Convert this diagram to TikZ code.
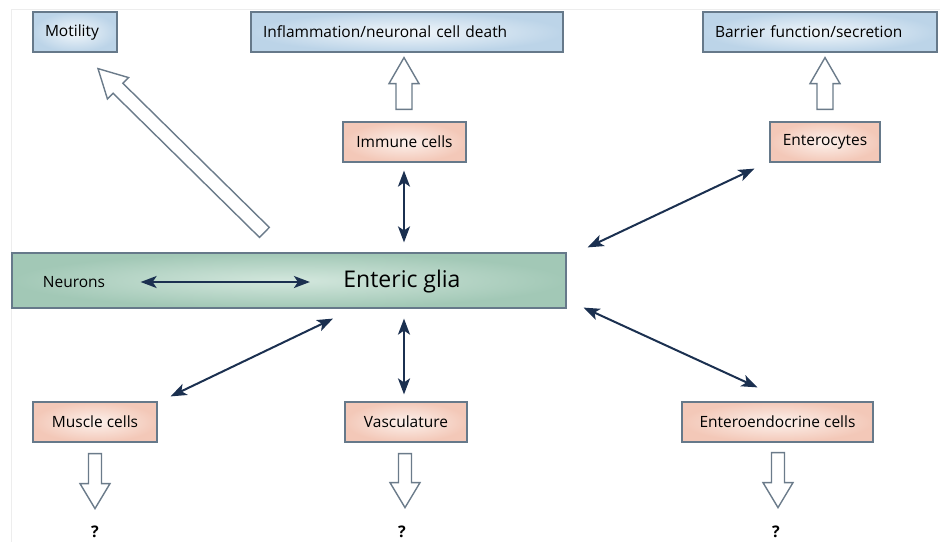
\documentclass[tikz,border=0pt]{standalone}
\usepackage{fontspec}
\setmainfont{Open Sans}
\usetikzlibrary{calc,arrows.meta}
\definecolor{navy}{HTML}{1B3050}
\definecolor{boxedge}{HTML}{66798A}
\definecolor{hollowedge}{HTML}{6B7B8A}
\definecolor{bluein}{HTML}{F2F7FB}
\definecolor{blueout}{HTML}{BCD4E8}
\definecolor{pinkin}{HTML}{FCF1EC}
\definecolor{pinkout}{HTML}{F3C8B8}
\definecolor{greenin}{HTML}{D3E7DD}
\definecolor{greenout}{HTML}{A2C8B6}
\newcommand\hollowarrow[5]{%
  \coordinate (ha-h) at ($(#2)!#5!(#1)$);
  \draw[hollow] ($(#1)!#3!90:(#2)$) -- ($(ha-h)!#3!-90:(#1)$) -- ($(ha-h)!#4!-90:(#1)$)
    -- (#2) -- ($(ha-h)!#4!90:(#1)$) -- ($(ha-h)!#3!90:(#1)$) -- ($(#1)!#3!-90:(#2)$) -- cycle;
}
\tikzset{
  lbl/.style={font=\fontsize{15.5}{18}\selectfont, text=black},
  bluebox/.style={lbl, draw=boxedge, line width=1.2pt, inner color=bluein, outer color=blueout,
    minimum height=40pt, inner ysep=0pt, inner xsep=12pt, align=left},
  pinkbox/.style={lbl, draw=boxedge, line width=1.2pt, inner color=pinkin, outer color=pinkout,
    minimum height=40pt, inner sep=0pt},
  greenbox/.style={draw=boxedge, line width=1.2pt, inner color=greenin, outer color=greenout,
    minimum height=55pt, inner sep=0pt},
  link/.style={draw=navy, line width=2pt, {Stealth[length=16pt,width=12pt,inset=4pt]}-{Stealth[length=16pt,width=12pt,inset=4pt]}},
  hollow/.style={draw=hollowedge, fill=white, line width=1.4pt, line join=miter},
  qmark/.style={font=\fontsize{16}{18}\selectfont\bfseries, text=black}
}
\begin{document}
\begin{tikzpicture}[x=1pt,y=-1pt]
\useasboundingbox (0,0) rectangle (940,542);
\fill[white] (0,0) rectangle (940,542);
\draw[black!7, line width=1pt] (11,542) -- (11,9) -- (940,9);

% top outcome boxes
\node[bluebox, text width=60pt] (motility) at (75,32) {Motility};
\node[bluebox, text width=288pt] (infl) at (407,32) {Inflammation/neuronal cell death};
\node[bluebox, text width=210pt] (barrier) at (820,32) {Barrier function/secretion};

% cell boxes
\node[pinkbox, minimum width=123pt] (immune) at (404.5,142) {Immune cells};
\node[pinkbox, minimum width=110pt] (entero) at (825,142) {Enterocytes};
\node[pinkbox, minimum width=124pt] (muscle) at (95,422) {Muscle cells};
\node[pinkbox, minimum width=122pt] (vasc) at (406,422) {Vasculature};
\node[pinkbox, minimum width=191pt] (endo) at (777.5,422) {Enteroendocrine cells};

% central glia box
\node[greenbox, minimum width=554pt] (gliabox) at (289,280.5) {};
\node[lbl] (neurons) at (74,282) {Neurons};
\node[font=\fontsize{23}{26}\selectfont, text=black] (glia) at (402,282) {Enteric glia};

% question marks
\node[qmark] (q1) at (95,532) {?};
\node[qmark] (q2) at (402,532) {?};
\node[qmark] (q3) at (776,532) {?};

% bidirectional links
\draw[link] ($(neurons.east)+(32,0)$) -- ($(glia.west)+(-30,0)$);
\draw[link] ($(immune.south)+(-0.5,8)$) -- ($(gliabox.north -| immune.south)+(-0.5,-10)$);
\draw[link] ($(entero.south west)+(-15,6)$) -- ($(gliabox.north east)+(21,-5)$);
\draw[link] ($(gliabox.south east)+(17,-1)$) -- ($(endo.north)+(-20,-14)$);
\draw[link] ($(muscle.north east)+(13,-5)$) -- ($(gliabox.south)+(44,10)$);
\draw[link] ($(gliabox.south -| vasc.north)+(-2,10)$) -- ($(vasc.north)+(-2,-7)$);

% hollow block arrows
\coordinate (m1) at ($(gliabox.north west)+(253,-20)$);
\coordinate (m2) at ($(motility.south)+(23,16)$);
\hollowarrow{m1}{m2}{7pt}{15pt}{28pt}
\coordinate (i1) at ($(immune.north)+(-0.5,-12)$);
\coordinate (i2) at ($(infl.south -| immune.north)+(-0.5,5)$);
\hollowarrow{i1}{i2}{8pt}{15pt}{26pt}
\coordinate (b1) at ($(entero.north)+(0,-12)$);
\coordinate (b2) at ($(barrier.south -| entero.north)+(0,5)$);
\hollowarrow{b1}{b2}{8pt}{15pt}{26pt}
\coordinate (d1a) at ($(muscle.south)+(0,11)$);
\coordinate (d1b) at ($(q1.north)+(0,-14)$);
\hollowarrow{d1a}{d1b}{6.5pt}{15pt}{25pt}
\coordinate (d2a) at ($(vasc.south)+(-1,11)$);
\coordinate (d2b) at ($(d2a)+(0,54)$);
\hollowarrow{d2a}{d2b}{6.5pt}{15pt}{25pt}
\coordinate (d3a) at ($(endo.south)+(0.5,10)$);
\coordinate (d3b) at ($(d3a)+(0,55)$);
\hollowarrow{d3a}{d3b}{6.5pt}{15pt}{25pt}
\end{tikzpicture}
\end{document}
